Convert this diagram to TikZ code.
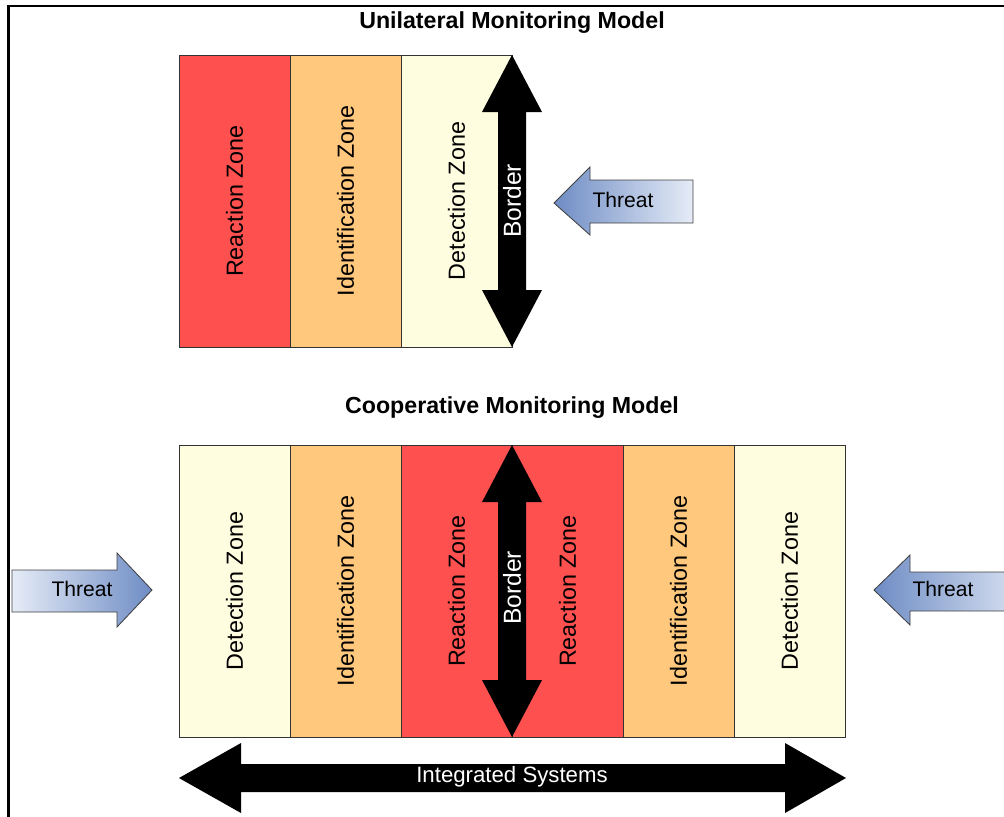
\documentclass[tikz,border=0pt]{standalone}
\usepackage{fontspec}
\setmainfont{Liberation Sans}
\definecolor{ZoneRed}{RGB}{255,80,80}
\definecolor{ZoneOrange}{RGB}{255,200,125}
\definecolor{ZoneCream}{RGB}{255,253,224}
\definecolor{ThreatDark}{RGB}{110,140,196}
\definecolor{ThreatLight}{RGB}{230,236,247}
\newcommand\zonefont{\fontsize{16.6}{19}\selectfont}
\newcommand\threatfont{\fontsize{15}{18}\selectfont}
\usetikzlibrary{calc}

\begin{document}
\begin{tikzpicture}[x=0.025cm, y=-0.025cm,
    zone/.style={draw=black!80, line width=0.6pt, rotate=90, inner sep=0pt,
        minimum width=7.3cm, minimum height=2.775cm, font=\zonefont},
    bigarrow/.style={fill=black},
    threatarrow/.style={draw=black!75, line width=0.6pt},
    arrowtext/.style={font=\threatfont, text=white},
    title/.style={font=\fontsize{16.5}{19}\selectfont\bfseries}]

    \useasboundingbox (0,0) rectangle (1004,816);

    % Rahmen
    \draw[line width=0.05cm] (8.5,820) -- (8.5,6) -- (1010,6);

    % Unilateral
    \node (uTitle) [title] at (512,23) {Unilateral Monitoring Model};
    \node (uReact) [zone, fill=ZoneRed] at (234.5,201) {Reaction Zone};
    \node (uIdent) [zone, fill=ZoneOrange] at (345.5,201) {Identification Zone};
    \node (uDetect) [zone, fill=ZoneCream] at (456.5,201) {Detection Zone};

    \fill[bigarrow] (512,55) -- (542,112) -- (526,112) -- (526,290) -- (542,290)
        -- (512,347) -- (482,290) -- (498,290) -- (498,112) -- (482,112) -- cycle;
    \node (uBorder) [arrowtext, rotate=90, font=\fontsize{17.5}{20}\selectfont] at (512,201) {Border};

    \path[threatarrow, left color=ThreatDark, right color=ThreatLight]
        (554,203) -- (590,167) -- (590,180) -- (693,180) -- (693,223)
        -- (590,223) -- (590,235) -- cycle;
    \node (uThreat) [font=\threatfont] at (623,200) {Threat};

    % Cooperative
    \node (cTitle) [title] at (512,408) {Cooperative Monitoring Model};
    \node (cDetectA) [zone, fill=ZoneCream] at (234.5,591) {Detection Zone};
    \node (cIdentA) [zone, fill=ZoneOrange] at (345.5,591) {Identification Zone};
    \node (cReactA) [zone, fill=ZoneRed] at (456.5,591) {Reaction Zone};
    \node (cReactB) [zone, fill=ZoneRed] at (567.5,591) {Reaction Zone};
    \node (cIdentB) [zone, fill=ZoneOrange] at (678.5,591) {Identification Zone};
    \node (cDetectB) [zone, fill=ZoneCream] at (789.5,591) {Detection Zone};

    \fill[bigarrow] (512,445) -- (542,502) -- (526,502) -- (526,680) -- (542,680)
        -- (512,737) -- (482,680) -- (498,680) -- (498,502) -- (482,502) -- cycle;
    \node (cBorder) [arrowtext, rotate=90, font=\fontsize{17.5}{20}\selectfont] at (512,588) {Border};

    \path[threatarrow, left color=ThreatLight, right color=ThreatDark]
        (12,570) -- (117,570) -- (117,553) -- (152,590) -- (117,627)
        -- (117,612) -- (12,612) -- cycle;
    \node (cThreatA) [font=\threatfont] at (82,589) {Threat};

    \path[threatarrow, left color=ThreatDark, right color=ThreatLight]
        (874,590) -- (910,555) -- (910,572) -- (1040,572) -- (1040,611)
        -- (910,611) -- (910,625) -- cycle;
    \node (cThreatB) [font=\threatfont] at (943,589) {Threat};

    % Integrated Systems
    \fill[bigarrow] (179,778) -- (241,743) -- (241,764) -- (785,764) -- (785,743)
        -- (846,778) -- (785,813) -- (785,792) -- (241,792) -- (241,813) -- cycle;
    \node (integrated) [arrowtext, font=\fontsize{15.8}{18}\selectfont] at (512,777) {Integrated Systems};

\end{tikzpicture}
\end{document}
